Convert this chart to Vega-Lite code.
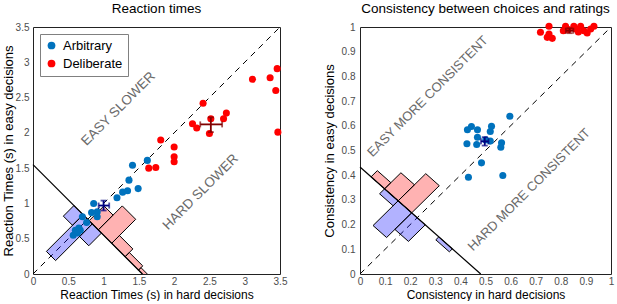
{
  "$schema": "https://vega.github.io/schema/vega-lite/v6.json",
  "padding": {"left": 1, "top": 1, "right": 0, "bottom": 0},
  "spacing": 80,
  "bounds": "flush",
  "config": {
    "font": "Liberation Sans",
    "view": {"stroke": "#222222", "strokeWidth": 1},
    "title": {"fontSize": 13.5, "fontWeight": "normal", "offset": 7, "color": "black"},
    "axis": {"domain": false, "ticks": false, "grid": false, "labelFontSize": 10, "labelColor": "#4d4d4d", "labelFlush": false, "labelOverlap": false, "titleFontWeight": "normal", "titleColor": "black"}
  },
  "resolve": {"scale": {"color": "independent"}, "legend": {"color": "independent"}},
  "datasets": {
    "pts": [
      {"panel": "rt", "group": "Arbitrary", "x": 1.62, "y": 1.61},
      {"panel": "rt", "group": "Arbitrary", "x": 1.41, "y": 1.54},
      {"panel": "rt", "group": "Arbitrary", "x": 1.36, "y": 1.33},
      {"panel": "rt", "group": "Arbitrary", "x": 1.49, "y": 1.21},
      {"panel": "rt", "group": "Arbitrary", "x": 1.34, "y": 1.18},
      {"panel": "rt", "group": "Arbitrary", "x": 1.27, "y": 1.16},
      {"panel": "rt", "group": "Arbitrary", "x": 1.19, "y": 1.08},
      {"panel": "rt", "group": "Arbitrary", "x": 0.86, "y": 1.0},
      {"panel": "rt", "group": "Arbitrary", "x": 0.91, "y": 0.88},
      {"panel": "rt", "group": "Arbitrary", "x": 0.83, "y": 0.87},
      {"panel": "rt", "group": "Arbitrary", "x": 0.91, "y": 0.81},
      {"panel": "rt", "group": "Arbitrary", "x": 0.7, "y": 0.81},
      {"panel": "rt", "group": "Arbitrary", "x": 0.76, "y": 0.73},
      {"panel": "rt", "group": "Arbitrary", "x": 0.65, "y": 0.65},
      {"panel": "rt", "group": "Arbitrary", "x": 0.6, "y": 0.62},
      {"panel": "rt", "group": "Arbitrary", "x": 0.67, "y": 0.62},
      {"panel": "rt", "group": "Arbitrary", "x": 0.57, "y": 0.55},
      {"panel": "rt", "group": "Arbitrary", "x": 0.63, "y": 0.58},
      {"panel": "rt", "group": "Deliberate", "x": 1.64, "y": 1.5},
      {"panel": "rt", "group": "Deliberate", "x": 1.74, "y": 1.51},
      {"panel": "rt", "group": "Deliberate", "x": 1.81, "y": 1.9},
      {"panel": "rt", "group": "Deliberate", "x": 2.0, "y": 1.8},
      {"panel": "rt", "group": "Deliberate", "x": 2.0, "y": 1.66},
      {"panel": "rt", "group": "Deliberate", "x": 2.0, "y": 1.59},
      {"panel": "rt", "group": "Deliberate", "x": 2.26, "y": 2.13},
      {"panel": "rt", "group": "Deliberate", "x": 2.32, "y": 2.07},
      {"panel": "rt", "group": "Deliberate", "x": 2.41, "y": 2.42},
      {"panel": "rt", "group": "Deliberate", "x": 2.52, "y": 2.2},
      {"panel": "rt", "group": "Deliberate", "x": 2.5, "y": 1.99},
      {"panel": "rt", "group": "Deliberate", "x": 2.7, "y": 2.2},
      {"panel": "rt", "group": "Deliberate", "x": 2.74, "y": 2.28},
      {"panel": "rt", "group": "Deliberate", "x": 3.11, "y": 2.76},
      {"panel": "rt", "group": "Deliberate", "x": 3.36, "y": 2.78},
      {"panel": "rt", "group": "Deliberate", "x": 3.44, "y": 2.6},
      {"panel": "rt", "group": "Deliberate", "x": 3.46, "y": 2.91},
      {"panel": "rt", "group": "Deliberate", "x": 3.47, "y": 2.01},
      {"panel": "cons", "group": "Arbitrary", "x": 0.597, "y": 0.639},
      {"panel": "cons", "group": "Arbitrary", "x": 0.428, "y": 0.584},
      {"panel": "cons", "group": "Arbitrary", "x": 0.444, "y": 0.597},
      {"panel": "cons", "group": "Arbitrary", "x": 0.468, "y": 0.584},
      {"panel": "cons", "group": "Arbitrary", "x": 0.519, "y": 0.577},
      {"panel": "cons", "group": "Arbitrary", "x": 0.524, "y": 0.598},
      {"panel": "cons", "group": "Arbitrary", "x": 0.468, "y": 0.554},
      {"panel": "cons", "group": "Arbitrary", "x": 0.501, "y": 0.543},
      {"panel": "cons", "group": "Arbitrary", "x": 0.465, "y": 0.524},
      {"panel": "cons", "group": "Arbitrary", "x": 0.426, "y": 0.527},
      {"panel": "cons", "group": "Arbitrary", "x": 0.519, "y": 0.538},
      {"panel": "cons", "group": "Arbitrary", "x": 0.564, "y": 0.531},
      {"panel": "cons", "group": "Arbitrary", "x": 0.561, "y": 0.513},
      {"panel": "cons", "group": "Arbitrary", "x": 0.484, "y": 0.45},
      {"panel": "cons", "group": "Arbitrary", "x": 0.432, "y": 0.392},
      {"panel": "cons", "group": "Arbitrary", "x": 0.569, "y": 0.399},
      {"panel": "cons", "group": "Deliberate", "x": 0.719, "y": 0.979},
      {"panel": "cons", "group": "Deliberate", "x": 0.753, "y": 1.003},
      {"panel": "cons", "group": "Deliberate", "x": 0.753, "y": 0.972},
      {"panel": "cons", "group": "Deliberate", "x": 0.766, "y": 0.954},
      {"panel": "cons", "group": "Deliberate", "x": 0.746, "y": 0.958},
      {"panel": "cons", "group": "Deliberate", "x": 0.819, "y": 1.003},
      {"panel": "cons", "group": "Deliberate", "x": 0.852, "y": 1.003},
      {"panel": "cons", "group": "Deliberate", "x": 0.859, "y": 0.992},
      {"panel": "cons", "group": "Deliberate", "x": 0.879, "y": 1.003},
      {"panel": "cons", "group": "Deliberate", "x": 0.892, "y": 0.985},
      {"panel": "cons", "group": "Deliberate", "x": 0.905, "y": 0.976},
      {"panel": "cons", "group": "Deliberate", "x": 0.919, "y": 0.992},
      {"panel": "cons", "group": "Deliberate", "x": 0.932, "y": 1.003},
      {"panel": "cons", "group": "Deliberate", "x": 0.83, "y": 0.99},
      {"panel": "cons", "group": "Deliberate", "x": 0.81, "y": 0.985},
      {"panel": "cons", "group": "Deliberate", "x": 0.87, "y": 0.98}
    ],
    "hist": [
      {"panel": "rt", "group": "Arbitrary", "poly": "b1", "ord": 1, "x": 0.71, "y": 0.84},
      {"panel": "rt", "group": "Arbitrary", "poly": "b1", "ord": 2, "x": 0.58, "y": 0.97},
      {"panel": "rt", "group": "Arbitrary", "poly": "b1", "ord": 3, "x": 0.43, "y": 0.82},
      {"panel": "rt", "group": "Arbitrary", "poly": "b1", "ord": 4, "x": 0.56, "y": 0.69},
      {"panel": "rt", "group": "Arbitrary", "poly": "b1", "ord": 5, "x": 0.71, "y": 0.84},
      {"panel": "rt", "group": "Arbitrary", "poly": "b2", "ord": 1, "x": 0.84, "y": 0.71},
      {"panel": "rt", "group": "Arbitrary", "poly": "b2", "ord": 2, "x": 0.71, "y": 0.84},
      {"panel": "rt", "group": "Arbitrary", "poly": "b2", "ord": 3, "x": 0.19, "y": 0.32},
      {"panel": "rt", "group": "Arbitrary", "poly": "b2", "ord": 4, "x": 0.32, "y": 0.19},
      {"panel": "rt", "group": "Arbitrary", "poly": "b2", "ord": 5, "x": 0.84, "y": 0.71},
      {"panel": "rt", "group": "Arbitrary", "poly": "b3", "ord": 1, "x": 0.97, "y": 0.58},
      {"panel": "rt", "group": "Arbitrary", "poly": "b3", "ord": 2, "x": 0.84, "y": 0.71},
      {"panel": "rt", "group": "Arbitrary", "poly": "b3", "ord": 3, "x": 0.66, "y": 0.53},
      {"panel": "rt", "group": "Arbitrary", "poly": "b3", "ord": 4, "x": 0.79, "y": 0.4},
      {"panel": "rt", "group": "Arbitrary", "poly": "b3", "ord": 5, "x": 0.97, "y": 0.58},
      {"panel": "rt", "group": "Deliberate", "poly": "r1", "ord": 1, "x": 0.925, "y": 0.625},
      {"panel": "rt", "group": "Deliberate", "poly": "r1", "ord": 2, "x": 0.795, "y": 0.755},
      {"panel": "rt", "group": "Deliberate", "poly": "r1", "ord": 3, "x": 1.005, "y": 0.965},
      {"panel": "rt", "group": "Deliberate", "poly": "r1", "ord": 4, "x": 1.135, "y": 0.835},
      {"panel": "rt", "group": "Deliberate", "poly": "r1", "ord": 5, "x": 0.925, "y": 0.625},
      {"panel": "rt", "group": "Deliberate", "poly": "r2", "ord": 1, "x": 1.115, "y": 0.435},
      {"panel": "rt", "group": "Deliberate", "poly": "r2", "ord": 2, "x": 0.925, "y": 0.625},
      {"panel": "rt", "group": "Deliberate", "poly": "r2", "ord": 3, "x": 1.265, "y": 0.965},
      {"panel": "rt", "group": "Deliberate", "poly": "r2", "ord": 4, "x": 1.455, "y": 0.775},
      {"panel": "rt", "group": "Deliberate", "poly": "r2", "ord": 5, "x": 1.115, "y": 0.435},
      {"panel": "rt", "group": "Deliberate", "poly": "r3", "ord": 1, "x": 1.305, "y": 0.245},
      {"panel": "rt", "group": "Deliberate", "poly": "r3", "ord": 2, "x": 1.115, "y": 0.435},
      {"panel": "rt", "group": "Deliberate", "poly": "r3", "ord": 3, "x": 1.225, "y": 0.545},
      {"panel": "rt", "group": "Deliberate", "poly": "r3", "ord": 4, "x": 1.415, "y": 0.355},
      {"panel": "rt", "group": "Deliberate", "poly": "r3", "ord": 5, "x": 1.305, "y": 0.245},
      {"panel": "rt", "group": "Deliberate", "poly": "r4", "ord": 1, "x": 1.495, "y": 0.055},
      {"panel": "rt", "group": "Deliberate", "poly": "r4", "ord": 2, "x": 1.305, "y": 0.245},
      {"panel": "rt", "group": "Deliberate", "poly": "r4", "ord": 3, "x": 1.365, "y": 0.305},
      {"panel": "rt", "group": "Deliberate", "poly": "r4", "ord": 4, "x": 1.555, "y": 0.115},
      {"panel": "rt", "group": "Deliberate", "poly": "r4", "ord": 5, "x": 1.495, "y": 0.055},
      {"panel": "rt", "group": "Deliberate", "poly": "r5", "ord": 1, "x": 1.685, "y": -0.135},
      {"panel": "rt", "group": "Deliberate", "poly": "r5", "ord": 2, "x": 1.495, "y": 0.055},
      {"panel": "rt", "group": "Deliberate", "poly": "r5", "ord": 3, "x": 1.53, "y": 0.09},
      {"panel": "rt", "group": "Deliberate", "poly": "r5", "ord": 4, "x": 1.72, "y": -0.1},
      {"panel": "rt", "group": "Deliberate", "poly": "r5", "ord": 5, "x": 1.685, "y": -0.135},
      {"panel": "cons", "group": "Arbitrary", "poly": "bb0", "ord": 1, "x": 0.098, "y": 0.3448},
      {"panel": "cons", "group": "Arbitrary", "poly": "bb0", "ord": 2, "x": 0.152, "y": 0.2962},
      {"panel": "cons", "group": "Arbitrary", "poly": "bb0", "ord": 3, "x": 0.132, "y": 0.2762},
      {"panel": "cons", "group": "Arbitrary", "poly": "bb0", "ord": 4, "x": 0.078, "y": 0.3248},
      {"panel": "cons", "group": "Arbitrary", "poly": "bb0", "ord": 5, "x": 0.098, "y": 0.3448},
      {"panel": "cons", "group": "Arbitrary", "poly": "bb1", "ord": 1, "x": 0.152, "y": 0.2962},
      {"panel": "cons", "group": "Arbitrary", "poly": "bb1", "ord": 2, "x": 0.206, "y": 0.2476},
      {"panel": "cons", "group": "Arbitrary", "poly": "bb1", "ord": 3, "x": 0.106, "y": 0.1476},
      {"panel": "cons", "group": "Arbitrary", "poly": "bb1", "ord": 4, "x": 0.052, "y": 0.1962},
      {"panel": "cons", "group": "Arbitrary", "poly": "bb1", "ord": 5, "x": 0.152, "y": 0.2962},
      {"panel": "cons", "group": "Arbitrary", "poly": "bb2", "ord": 1, "x": 0.206, "y": 0.2476},
      {"panel": "cons", "group": "Arbitrary", "poly": "bb2", "ord": 2, "x": 0.26, "y": 0.199},
      {"panel": "cons", "group": "Arbitrary", "poly": "bb2", "ord": 3, "x": 0.193, "y": 0.132},
      {"panel": "cons", "group": "Arbitrary", "poly": "bb2", "ord": 4, "x": 0.139, "y": 0.1806},
      {"panel": "cons", "group": "Arbitrary", "poly": "bb2", "ord": 5, "x": 0.206, "y": 0.2476},
      {"panel": "cons", "group": "Arbitrary", "poly": "bb4", "ord": 1, "x": 0.314, "y": 0.1504},
      {"panel": "cons", "group": "Arbitrary", "poly": "bb4", "ord": 2, "x": 0.368, "y": 0.1018},
      {"panel": "cons", "group": "Arbitrary", "poly": "bb4", "ord": 3, "x": 0.356, "y": 0.0898},
      {"panel": "cons", "group": "Arbitrary", "poly": "bb4", "ord": 4, "x": 0.302, "y": 0.1384},
      {"panel": "cons", "group": "Arbitrary", "poly": "bb4", "ord": 5, "x": 0.314, "y": 0.1504},
      {"panel": "cons", "group": "Deliberate", "poly": "rra", "ord": 1, "x": 0.044, "y": 0.3934},
      {"panel": "cons", "group": "Deliberate", "poly": "rra", "ord": 2, "x": 0.098, "y": 0.3448},
      {"panel": "cons", "group": "Deliberate", "poly": "rra", "ord": 3, "x": 0.123, "y": 0.3698},
      {"panel": "cons", "group": "Deliberate", "poly": "rra", "ord": 4, "x": 0.069, "y": 0.4184},
      {"panel": "cons", "group": "Deliberate", "poly": "rra", "ord": 5, "x": 0.044, "y": 0.3934},
      {"panel": "cons", "group": "Deliberate", "poly": "rrb", "ord": 1, "x": 0.098, "y": 0.3448},
      {"panel": "cons", "group": "Deliberate", "poly": "rrb", "ord": 2, "x": 0.152, "y": 0.2962},
      {"panel": "cons", "group": "Deliberate", "poly": "rrb", "ord": 3, "x": 0.217, "y": 0.3612},
      {"panel": "cons", "group": "Deliberate", "poly": "rrb", "ord": 4, "x": 0.163, "y": 0.4098},
      {"panel": "cons", "group": "Deliberate", "poly": "rrb", "ord": 5, "x": 0.098, "y": 0.3448},
      {"panel": "cons", "group": "Deliberate", "poly": "rrc", "ord": 1, "x": 0.152, "y": 0.2962},
      {"panel": "cons", "group": "Deliberate", "poly": "rrc", "ord": 2, "x": 0.206, "y": 0.2476},
      {"panel": "cons", "group": "Deliberate", "poly": "rrc", "ord": 3, "x": 0.316, "y": 0.3576},
      {"panel": "cons", "group": "Deliberate", "poly": "rrc", "ord": 4, "x": 0.262, "y": 0.4062},
      {"panel": "cons", "group": "Deliberate", "poly": "rrc", "ord": 5, "x": 0.152, "y": 0.2962}
    ],
    "lines": [
      {"panel": "rt", "kind": "diag", "ord": 1, "x": 0, "y": 0},
      {"panel": "rt", "kind": "diag", "ord": 2, "x": 3.5, "y": 3.5},
      {"panel": "rt", "kind": "anti", "ord": 1, "x": 0, "y": 1.55},
      {"panel": "rt", "kind": "anti", "ord": 2, "x": 1.55, "y": 0},
      {"panel": "cons", "kind": "diag", "ord": 1, "x": 0, "y": 0},
      {"panel": "cons", "kind": "diag", "ord": 2, "x": 1, "y": 1},
      {"panel": "cons", "kind": "anti", "ord": 1, "x": 0, "y": 0.433},
      {"panel": "cons", "kind": "anti", "ord": 2, "x": 0.481, "y": 0}
    ],
    "means": [
      {"panel": "rt", "group": "Arbitrary", "x": 1.0, "y": 0.97, "xlo": 0.93, "xhi": 1.08, "ylo": 0.9, "yhi": 1.04},
      {"panel": "rt", "group": "Deliberate", "x": 2.52, "y": 2.12, "xlo": 2.37, "xhi": 2.68, "ylo": 2.01, "yhi": 2.22},
      {"panel": "cons", "group": "Arbitrary", "x": 0.497, "y": 0.537, "xlo": 0.482, "xhi": 0.512, "ylo": 0.52, "yhi": 0.554},
      {"panel": "cons", "group": "Deliberate", "x": 0.835, "y": 0.985, "xlo": 0.82, "xhi": 0.85, "ylo": 0.975, "yhi": 0.995}
    ],
    "labels": [
      {"panel": "rt", "text": "EASY SLOWER", "x": 1.21, "y": 2.34},
      {"panel": "rt", "text": "HARD SLOWER", "x": 2.375, "y": 1.16},
      {"panel": "cons", "text": "EASY MORE CONSISTENT", "x": 0.27, "y": 0.719},
      {"panel": "cons", "text": "HARD MORE CONSISTENT", "x": 0.674, "y": 0.341}
    ]
  },
  "hconcat": [
    {
      "width": 247,
      "height": 247,
      "title": "Reaction times",
      "layer": [
        {
          "data": {"name": "lines"},
          "transform": [{"filter": "datum.panel === 'rt' && datum.kind === 'diag'"}],
          "mark": {"type": "line", "color": "black", "strokeWidth": 1, "strokeDash": [6, 5]},
          "encoding": {
            "x": {"field": "x", "type": "quantitative", "title": "Reaction Times (s) in hard decisions", "scale": {"domain": [0, 3.5], "nice": false, "zero": false},
                  "axis": {"values": [0, 0.5, 1, 1.5, 2, 2.5, 3, 3.5], "labelExpr": "datum.value + ''", "labelOverlap": false, "labelFlush": false, "labelPadding": 2, "titleFontSize": 12, "titlePadding": 3}},
            "y": {"field": "y", "type": "quantitative", "title": "Reaction Times (s) in easy decisions", "scale": {"domain": [0, 3.5], "nice": false, "zero": false},
                  "axis": {"values": [0, 0.5, 1, 1.5, 2, 2.5, 3, 3.5], "labelExpr": "datum.value + ''", "labelOverlap": false, "labelFlush": false, "labelPadding": 4, "titleFontSize": 13, "titlePadding": 0}},
            "order": {"field": "ord", "type": "quantitative"}
          }
        },
        {
          "data": {"name": "hist"},
          "transform": [{"filter": "datum.panel === 'rt' && datum.group === 'Deliberate'"}],
          "mark": {"type": "line", "stroke": "black", "strokeWidth": 1, "fill": "#ff0000", "fillOpacity": 0.3, "clip": true},
          "encoding": {
            "x": {"field": "x", "type": "quantitative", "title": "Reaction Times (s) in hard decisions", "axis": {"values": [0, 0.5, 1, 1.5, 2, 2.5, 3, 3.5], "labelExpr": "datum.value + ''", "labelOverlap": false, "labelFlush": false, "labelPadding": 2, "titleFontSize": 12, "titlePadding": 3}},
            "y": {"field": "y", "type": "quantitative", "title": "Reaction Times (s) in easy decisions", "axis": {"values": [0, 0.5, 1, 1.5, 2, 2.5, 3, 3.5], "labelExpr": "datum.value + ''", "labelOverlap": false, "labelFlush": false, "labelPadding": 4, "titleFontSize": 13, "titlePadding": 0}},
            "detail": {"field": "poly"},
            "order": {"field": "ord", "type": "quantitative"}
          }
        },
        {
          "data": {"name": "hist"},
          "transform": [{"filter": "datum.panel === 'rt' && datum.group === 'Arbitrary'"}],
          "mark": {"type": "line", "stroke": "black", "strokeWidth": 1, "fill": "#0000ff", "fillOpacity": 0.3, "clip": true},
          "encoding": {
            "x": {"field": "x", "type": "quantitative", "title": "Reaction Times (s) in hard decisions", "axis": {"values": [0, 0.5, 1, 1.5, 2, 2.5, 3, 3.5], "labelExpr": "datum.value + ''", "labelOverlap": false, "labelFlush": false, "labelPadding": 2, "titleFontSize": 12, "titlePadding": 3}},
            "y": {"field": "y", "type": "quantitative", "title": "Reaction Times (s) in easy decisions", "axis": {"values": [0, 0.5, 1, 1.5, 2, 2.5, 3, 3.5], "labelExpr": "datum.value + ''", "labelOverlap": false, "labelFlush": false, "labelPadding": 4, "titleFontSize": 13, "titlePadding": 0}},
            "detail": {"field": "poly"},
            "order": {"field": "ord", "type": "quantitative"}
          }
        },
        {
          "data": {"name": "lines"},
          "transform": [{"filter": "datum.panel === 'rt' && datum.kind === 'anti'"}],
          "mark": {"type": "line", "color": "black", "strokeWidth": 1.2},
          "encoding": {
            "x": {"field": "x", "type": "quantitative", "title": "Reaction Times (s) in hard decisions", "axis": {"values": [0, 0.5, 1, 1.5, 2, 2.5, 3, 3.5], "labelExpr": "datum.value + ''", "labelOverlap": false, "labelFlush": false, "labelPadding": 2, "titleFontSize": 12, "titlePadding": 3}},
            "y": {"field": "y", "type": "quantitative", "title": "Reaction Times (s) in easy decisions", "axis": {"values": [0, 0.5, 1, 1.5, 2, 2.5, 3, 3.5], "labelExpr": "datum.value + ''", "labelOverlap": false, "labelFlush": false, "labelPadding": 4, "titleFontSize": 13, "titlePadding": 0}},
            "order": {"field": "ord", "type": "quantitative"}
          }
        },
        {
          "data": {"name": "pts"},
          "transform": [{"filter": "datum.panel === 'rt'"}],
          "mark": {"type": "circle", "size": 50, "opacity": 1},
          "encoding": {
            "x": {"field": "x", "type": "quantitative", "title": "Reaction Times (s) in hard decisions", "axis": {"values": [0, 0.5, 1, 1.5, 2, 2.5, 3, 3.5], "labelExpr": "datum.value + ''", "labelOverlap": false, "labelFlush": false, "labelPadding": 2, "titleFontSize": 12, "titlePadding": 3}},
            "y": {"field": "y", "type": "quantitative", "title": "Reaction Times (s) in easy decisions", "axis": {"values": [0, 0.5, 1, 1.5, 2, 2.5, 3, 3.5], "labelExpr": "datum.value + ''", "labelOverlap": false, "labelFlush": false, "labelPadding": 4, "titleFontSize": 13, "titlePadding": 0}},
            "color": {"field": "group", "type": "nominal",
                      "scale": {"domain": ["Arbitrary", "Deliberate"], "range": ["#0072BD", "#FF0000"]},
                      "legend": {"title": null, "orient": "top-left", "offset": 7, "padding": 5, "strokeColor": "#808080", "fillColor": "white",
                                 "labelFontSize": 13, "labelColor": "black", "symbolType": "circle", "symbolSize": 60, "symbolStrokeWidth": 0,
                                 "rowPadding": 4, "labelOffset": 5, "labelExpr": "datum.label + '    '"}}
          }
        },
        {
          "data": {"name": "means"},
          "transform": [{"filter": "datum.panel === 'rt' && datum.group === 'Arbitrary'"}],
          "layer": [
            {"mark": {"type": "errorbar", "color": "#000080", "thickness": 1.8, "ticks": {"size": 6, "thickness": 1.8}},
             "encoding": {"x": {"field": "xlo", "type": "quantitative", "title": "Reaction Times (s) in hard decisions", "axis": {"values": [0, 0.5, 1, 1.5, 2, 2.5, 3, 3.5], "labelExpr": "datum.value + ''", "labelOverlap": false, "labelFlush": false, "labelPadding": 2, "titleFontSize": 12, "titlePadding": 3}}, "x2": {"field": "xhi"}, "y": {"field": "y", "type": "quantitative", "title": "Reaction Times (s) in easy decisions", "axis": {"values": [0, 0.5, 1, 1.5, 2, 2.5, 3, 3.5], "labelExpr": "datum.value + ''", "labelOverlap": false, "labelFlush": false, "labelPadding": 4, "titleFontSize": 13, "titlePadding": 0}}}},
            {"mark": {"type": "errorbar", "color": "#000080", "thickness": 1.8, "ticks": {"size": 6, "thickness": 1.8}},
             "encoding": {"y": {"field": "ylo", "type": "quantitative", "title": "Reaction Times (s) in easy decisions", "axis": {"values": [0, 0.5, 1, 1.5, 2, 2.5, 3, 3.5], "labelExpr": "datum.value + ''", "labelOverlap": false, "labelFlush": false, "labelPadding": 4, "titleFontSize": 13, "titlePadding": 0}}, "y2": {"field": "yhi"}, "x": {"field": "x", "type": "quantitative", "title": "Reaction Times (s) in hard decisions", "axis": {"values": [0, 0.5, 1, 1.5, 2, 2.5, 3, 3.5], "labelExpr": "datum.value + ''", "labelOverlap": false, "labelFlush": false, "labelPadding": 2, "titleFontSize": 12, "titlePadding": 3}}}}
          ]
        },
        {
          "data": {"name": "means"},
          "transform": [{"filter": "datum.panel === 'rt' && datum.group === 'Deliberate'"}],
          "layer": [
            {"mark": {"type": "errorbar", "color": "#800000", "thickness": 1.8, "ticks": {"size": 6, "thickness": 1.8}},
             "encoding": {"x": {"field": "xlo", "type": "quantitative", "title": "Reaction Times (s) in hard decisions", "axis": {"values": [0, 0.5, 1, 1.5, 2, 2.5, 3, 3.5], "labelExpr": "datum.value + ''", "labelOverlap": false, "labelFlush": false, "labelPadding": 2, "titleFontSize": 12, "titlePadding": 3}}, "x2": {"field": "xhi"}, "y": {"field": "y", "type": "quantitative", "title": "Reaction Times (s) in easy decisions", "axis": {"values": [0, 0.5, 1, 1.5, 2, 2.5, 3, 3.5], "labelExpr": "datum.value + ''", "labelOverlap": false, "labelFlush": false, "labelPadding": 4, "titleFontSize": 13, "titlePadding": 0}}}},
            {"mark": {"type": "errorbar", "color": "#800000", "thickness": 1.8, "ticks": {"size": 6, "thickness": 1.8}},
             "encoding": {"y": {"field": "ylo", "type": "quantitative", "title": "Reaction Times (s) in easy decisions", "axis": {"values": [0, 0.5, 1, 1.5, 2, 2.5, 3, 3.5], "labelExpr": "datum.value + ''", "labelOverlap": false, "labelFlush": false, "labelPadding": 4, "titleFontSize": 13, "titlePadding": 0}}, "y2": {"field": "yhi"}, "x": {"field": "x", "type": "quantitative", "title": "Reaction Times (s) in hard decisions", "axis": {"values": [0, 0.5, 1, 1.5, 2, 2.5, 3, 3.5], "labelExpr": "datum.value + ''", "labelOverlap": false, "labelFlush": false, "labelPadding": 2, "titleFontSize": 12, "titlePadding": 3}}}}
          ]
        },
        {
          "data": {"name": "labels"},
          "transform": [{"filter": "datum.panel === 'rt'"}],
          "mark": {"type": "text", "angle": -45, "align": "center", "baseline": "middle", "fontSize": 13.5, "color": "#6a6a6a"},
          "encoding": {
            "x": {"field": "x", "type": "quantitative", "title": "Reaction Times (s) in hard decisions", "axis": {"values": [0, 0.5, 1, 1.5, 2, 2.5, 3, 3.5], "labelExpr": "datum.value + ''", "labelOverlap": false, "labelFlush": false, "labelPadding": 2, "titleFontSize": 12, "titlePadding": 3}},
            "y": {"field": "y", "type": "quantitative", "title": "Reaction Times (s) in easy decisions", "axis": {"values": [0, 0.5, 1, 1.5, 2, 2.5, 3, 3.5], "labelExpr": "datum.value + ''", "labelOverlap": false, "labelFlush": false, "labelPadding": 4, "titleFontSize": 13, "titlePadding": 0}},
            "text": {"field": "text"}
          }
        }
      ]
    },
    {
      "width": 251,
      "height": 247,
      "title": "Consistency between choices and ratings",
      "layer": [
        {
          "data": {"name": "lines"},
          "transform": [{"filter": "datum.panel === 'cons' && datum.kind === 'diag'"}],
          "mark": {"type": "line", "color": "black", "strokeWidth": 1, "strokeDash": [6, 5]},
          "encoding": {
            "x": {"field": "x", "type": "quantitative", "title": "Consistency in hard decisions", "scale": {"domain": [0, 1], "nice": false, "zero": false},
                  "axis": {"values": [0, 0.1, 0.2, 0.3, 0.4, 0.5, 0.6, 0.7, 0.8, 0.9, 1], "labelExpr": "datum.value + ''", "labelOverlap": false, "labelFlush": false, "labelPadding": 2, "titleFontSize": 12, "titlePadding": 3}},
            "y": {"field": "y", "type": "quantitative", "title": "Consistency in easy decisions", "scale": {"domain": [0, 1], "nice": false, "zero": false},
                  "axis": {"values": [0, 0.1, 0.2, 0.3, 0.4, 0.5, 0.6, 0.7, 0.8, 0.9, 1], "labelExpr": "datum.value + ''", "labelOverlap": false, "labelFlush": false, "labelPadding": 5, "titleFontSize": 13, "titlePadding": 5}},
            "order": {"field": "ord", "type": "quantitative"}
          }
        },
        {
          "data": {"name": "hist"},
          "transform": [{"filter": "datum.panel === 'cons' && datum.group === 'Deliberate'"}],
          "mark": {"type": "line", "stroke": "black", "strokeWidth": 1, "fill": "#ff0000", "fillOpacity": 0.3, "clip": true},
          "encoding": {
            "x": {"field": "x", "type": "quantitative", "title": "Consistency in hard decisions", "axis": {"values": [0, 0.1, 0.2, 0.3, 0.4, 0.5, 0.6, 0.7, 0.8, 0.9, 1], "labelExpr": "datum.value + ''", "labelOverlap": false, "labelFlush": false, "labelPadding": 2, "titleFontSize": 12, "titlePadding": 3}},
            "y": {"field": "y", "type": "quantitative", "title": "Consistency in easy decisions", "axis": {"values": [0, 0.1, 0.2, 0.3, 0.4, 0.5, 0.6, 0.7, 0.8, 0.9, 1], "labelExpr": "datum.value + ''", "labelOverlap": false, "labelFlush": false, "labelPadding": 5, "titleFontSize": 13, "titlePadding": 5}},
            "detail": {"field": "poly"},
            "order": {"field": "ord", "type": "quantitative"}
          }
        },
        {
          "data": {"name": "hist"},
          "transform": [{"filter": "datum.panel === 'cons' && datum.group === 'Arbitrary'"}],
          "mark": {"type": "line", "stroke": "black", "strokeWidth": 1, "fill": "#0000ff", "fillOpacity": 0.3, "clip": true},
          "encoding": {
            "x": {"field": "x", "type": "quantitative", "title": "Consistency in hard decisions", "axis": {"values": [0, 0.1, 0.2, 0.3, 0.4, 0.5, 0.6, 0.7, 0.8, 0.9, 1], "labelExpr": "datum.value + ''", "labelOverlap": false, "labelFlush": false, "labelPadding": 2, "titleFontSize": 12, "titlePadding": 3}},
            "y": {"field": "y", "type": "quantitative", "title": "Consistency in easy decisions", "axis": {"values": [0, 0.1, 0.2, 0.3, 0.4, 0.5, 0.6, 0.7, 0.8, 0.9, 1], "labelExpr": "datum.value + ''", "labelOverlap": false, "labelFlush": false, "labelPadding": 5, "titleFontSize": 13, "titlePadding": 5}},
            "detail": {"field": "poly"},
            "order": {"field": "ord", "type": "quantitative"}
          }
        },
        {
          "data": {"name": "lines"},
          "transform": [{"filter": "datum.panel === 'cons' && datum.kind === 'anti'"}],
          "mark": {"type": "line", "color": "black", "strokeWidth": 1.2},
          "encoding": {
            "x": {"field": "x", "type": "quantitative", "title": "Consistency in hard decisions", "axis": {"values": [0, 0.1, 0.2, 0.3, 0.4, 0.5, 0.6, 0.7, 0.8, 0.9, 1], "labelExpr": "datum.value + ''", "labelOverlap": false, "labelFlush": false, "labelPadding": 2, "titleFontSize": 12, "titlePadding": 3}},
            "y": {"field": "y", "type": "quantitative", "title": "Consistency in easy decisions", "axis": {"values": [0, 0.1, 0.2, 0.3, 0.4, 0.5, 0.6, 0.7, 0.8, 0.9, 1], "labelExpr": "datum.value + ''", "labelOverlap": false, "labelFlush": false, "labelPadding": 5, "titleFontSize": 13, "titlePadding": 5}},
            "order": {"field": "ord", "type": "quantitative"}
          }
        },
        {
          "data": {"name": "pts"},
          "transform": [{"filter": "datum.panel === 'cons'"}],
          "mark": {"type": "circle", "size": 50, "opacity": 1},
          "encoding": {
            "x": {"field": "x", "type": "quantitative", "title": "Consistency in hard decisions", "axis": {"values": [0, 0.1, 0.2, 0.3, 0.4, 0.5, 0.6, 0.7, 0.8, 0.9, 1], "labelExpr": "datum.value + ''", "labelOverlap": false, "labelFlush": false, "labelPadding": 2, "titleFontSize": 12, "titlePadding": 3}},
            "y": {"field": "y", "type": "quantitative", "title": "Consistency in easy decisions", "axis": {"values": [0, 0.1, 0.2, 0.3, 0.4, 0.5, 0.6, 0.7, 0.8, 0.9, 1], "labelExpr": "datum.value + ''", "labelOverlap": false, "labelFlush": false, "labelPadding": 5, "titleFontSize": 13, "titlePadding": 5}},
            "color": {"field": "group", "type": "nominal",
                      "scale": {"domain": ["Arbitrary", "Deliberate"], "range": ["#0072BD", "#FF0000"]},
                      "legend": null}
          }
        },
        {
          "data": {"name": "means"},
          "transform": [{"filter": "datum.panel === 'cons' && datum.group === 'Arbitrary'"}],
          "layer": [
            {"mark": {"type": "errorbar", "color": "#000080", "thickness": 1.8, "ticks": {"size": 6, "thickness": 1.8}},
             "encoding": {"x": {"field": "xlo", "type": "quantitative", "title": "Consistency in hard decisions", "axis": {"values": [0, 0.1, 0.2, 0.3, 0.4, 0.5, 0.6, 0.7, 0.8, 0.9, 1], "labelExpr": "datum.value + ''", "labelOverlap": false, "labelFlush": false, "labelPadding": 2, "titleFontSize": 12, "titlePadding": 3}}, "x2": {"field": "xhi"}, "y": {"field": "y", "type": "quantitative", "title": "Consistency in easy decisions", "axis": {"values": [0, 0.1, 0.2, 0.3, 0.4, 0.5, 0.6, 0.7, 0.8, 0.9, 1], "labelExpr": "datum.value + ''", "labelOverlap": false, "labelFlush": false, "labelPadding": 5, "titleFontSize": 13, "titlePadding": 5}}}},
            {"mark": {"type": "errorbar", "color": "#000080", "thickness": 1.8, "ticks": {"size": 6, "thickness": 1.8}},
             "encoding": {"y": {"field": "ylo", "type": "quantitative", "title": "Consistency in easy decisions", "axis": {"values": [0, 0.1, 0.2, 0.3, 0.4, 0.5, 0.6, 0.7, 0.8, 0.9, 1], "labelExpr": "datum.value + ''", "labelOverlap": false, "labelFlush": false, "labelPadding": 5, "titleFontSize": 13, "titlePadding": 5}}, "y2": {"field": "yhi"}, "x": {"field": "x", "type": "quantitative", "title": "Consistency in hard decisions", "axis": {"values": [0, 0.1, 0.2, 0.3, 0.4, 0.5, 0.6, 0.7, 0.8, 0.9, 1], "labelExpr": "datum.value + ''", "labelOverlap": false, "labelFlush": false, "labelPadding": 2, "titleFontSize": 12, "titlePadding": 3}}}}
          ]
        },
        {
          "data": {"name": "means"},
          "transform": [{"filter": "datum.panel === 'cons' && datum.group === 'Deliberate'"}],
          "layer": [
            {"mark": {"type": "errorbar", "color": "#800000", "thickness": 1.8, "ticks": {"size": 6, "thickness": 1.8}},
             "encoding": {"x": {"field": "xlo", "type": "quantitative", "title": "Consistency in hard decisions", "axis": {"values": [0, 0.1, 0.2, 0.3, 0.4, 0.5, 0.6, 0.7, 0.8, 0.9, 1], "labelExpr": "datum.value + ''", "labelOverlap": false, "labelFlush": false, "labelPadding": 2, "titleFontSize": 12, "titlePadding": 3}}, "x2": {"field": "xhi"}, "y": {"field": "y", "type": "quantitative", "title": "Consistency in easy decisions", "axis": {"values": [0, 0.1, 0.2, 0.3, 0.4, 0.5, 0.6, 0.7, 0.8, 0.9, 1], "labelExpr": "datum.value + ''", "labelOverlap": false, "labelFlush": false, "labelPadding": 5, "titleFontSize": 13, "titlePadding": 5}}}},
            {"mark": {"type": "errorbar", "color": "#800000", "thickness": 1.8, "ticks": {"size": 6, "thickness": 1.8}},
             "encoding": {"y": {"field": "ylo", "type": "quantitative", "title": "Consistency in easy decisions", "axis": {"values": [0, 0.1, 0.2, 0.3, 0.4, 0.5, 0.6, 0.7, 0.8, 0.9, 1], "labelExpr": "datum.value + ''", "labelOverlap": false, "labelFlush": false, "labelPadding": 5, "titleFontSize": 13, "titlePadding": 5}}, "y2": {"field": "yhi"}, "x": {"field": "x", "type": "quantitative", "title": "Consistency in hard decisions", "axis": {"values": [0, 0.1, 0.2, 0.3, 0.4, 0.5, 0.6, 0.7, 0.8, 0.9, 1], "labelExpr": "datum.value + ''", "labelOverlap": false, "labelFlush": false, "labelPadding": 2, "titleFontSize": 12, "titlePadding": 3}}}}
          ]
        },
        {
          "data": {"name": "labels"},
          "transform": [{"filter": "datum.panel === 'cons'"}],
          "mark": {"type": "text", "angle": -45, "align": "center", "baseline": "middle", "fontSize": 13, "color": "#6a6a6a"},
          "encoding": {
            "x": {"field": "x", "type": "quantitative", "title": "Consistency in hard decisions", "axis": {"values": [0, 0.1, 0.2, 0.3, 0.4, 0.5, 0.6, 0.7, 0.8, 0.9, 1], "labelExpr": "datum.value + ''", "labelOverlap": false, "labelFlush": false, "labelPadding": 2, "titleFontSize": 12, "titlePadding": 3}},
            "y": {"field": "y", "type": "quantitative", "title": "Consistency in easy decisions", "axis": {"values": [0, 0.1, 0.2, 0.3, 0.4, 0.5, 0.6, 0.7, 0.8, 0.9, 1], "labelExpr": "datum.value + ''", "labelOverlap": false, "labelFlush": false, "labelPadding": 5, "titleFontSize": 13, "titlePadding": 5}},
            "text": {"field": "text"}
          }
        }
      ]
    }
  ]
}
